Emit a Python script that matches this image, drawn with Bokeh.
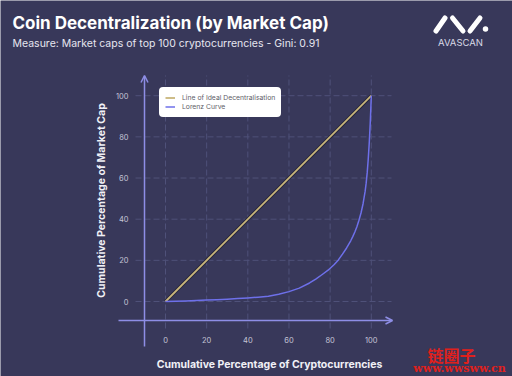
import math
from bokeh.plotting import figure
from bokeh.models import Label, Arrow, OpenHead, Legend, LegendItem
from bokeh.core.properties import value
from bokeh.embed import file_html
from bokeh.resources import INLINE

# ---- data ----
title = "Coin Decentralization (by Market Cap)"
subtitle = "Measure: Market caps of top 100 cryptocurrencies - Gini: 0.91"
x_label = "Cumulative Percentage of Cryptocurrencies"
y_label = "Cumulative Percentage of Market Cap"
series_names = ["Line of Ideal Decentralisation", "Lorenz Curve"]
ideal_x = [0, 100]
ideal_y = [0, 100]
lorenz_x = [0, 5, 10, 15, 20, 25, 30, 35, 40, 45, 50, 55, 60, 65, 70, 73, 76, 79, 82,
            84, 86, 88, 90, 91, 92, 93, 94, 95, 96, 97, 97.5, 98, 98.5, 99, 99.5, 100]
lorenz_y = [0, 0.1, 0.3, 0.5, 0.7, 0.9, 1.1, 1.4, 1.7, 2.1, 2.6, 3.5, 4.8, 6.5, 9.0, 10.9,
            13.0, 15.2, 18.0, 20.2, 23.0, 26.0, 29.5, 31.5, 33.8, 36.3, 39.5, 43.0, 47.5,
            53.5, 57.5, 62.5, 69.0, 77.0, 87.0, 100]
x_ticks = [0, 20, 40, 60, 80, 100]
y_ticks = [0, 20, 40, 60, 80, 100]
x_tick_labels = [str(t) for t in x_ticks]
y_tick_labels = [str(t) for t in y_ticks]
brand = "AVASCAN"
wm_cn = "链圈子"
wm_url = "www.wwsww.cn"

# ---- styling ----
W, H = 512, 376
BG = "#38385a"
AX = "#8e8ee6"
GRID = "#4f5179"
TAN = "#c9b67b"
LOR = "#6e70ea"
TICK = "#c4c4d6"
FONT = "Inter"

# pixel mapping of the frame (frame covers whole canvas)
X0PX, Y0PX, S = 165.0, 301.0, 2.058

def dx(px):
    return (px - X0PX) / S

def dy(py):
    return (Y0PX - py) / S

p = figure(width=W, height=H, x_range=(dx(0), dx(W)), y_range=(dy(H), dy(0)),
           min_border=0, toolbar_location=None, output_backend="svg",
           background_fill_color=BG, border_fill_color=BG, outline_line_color=None)
p.grid.visible = False
p.axis.visible = False

# dashed grid
gx0, gx1 = dx(135), dx(391)
gy0, gy1 = dy(328), dy(75)
p.segment(x0=x_ticks, y0=[gy0] * len(x_ticks), x1=x_ticks, y1=[gy1] * len(x_ticks),
          line_color=GRID, line_width=1, line_dash="6 3")
p.segment(x0=[gx0] * len(y_ticks), y0=y_ticks, x1=[gx1] * len(y_ticks), y1=y_ticks,
          line_color=GRID, line_width=1, line_dash="6 3")

# tick labels
p.text(x=x_ticks, y=[dy(339)] * len(x_ticks), text=x_tick_labels,
       text_font=value(FONT), text_font_size="7.5px", text_color=TICK,
       text_align="center", text_baseline="middle")
p.text(x=[dx(128)] * len(y_ticks), y=y_ticks, text=y_tick_labels,
       text_font=value(FONT), text_font_size="7.5px", text_color=TICK,
       text_align="right", text_baseline="middle")

# axis arrows
ax_x = dx(144)
ax_y = dy(320)
p.add_layout(Arrow(end=OpenHead(size=7, line_color=AX, line_width=1.5),
                   x_start=ax_x, y_start=dy(346), x_end=ax_x, y_end=dy(75),
                   line_color=AX, line_width=1.5))
p.add_layout(Arrow(end=OpenHead(size=7, line_color=AX, line_width=1.5),
                   x_start=dx(118), y_start=ax_y, x_end=dx(392), y_end=ax_y,
                   line_color=AX, line_width=1.5))

# series
p.line(ideal_x, ideal_y, line_color="#23233a", line_width=3.6)
r_ideal = p.line(ideal_x, ideal_y, line_color=TAN, line_width=1.8)
r_lor = p.line(lorenz_x, lorenz_y, line_color=LOR, line_width=1.5, line_join="round")

legend = Legend(items=[LegendItem(label=series_names[0], renderers=[r_ideal]),
                       LegendItem(label=series_names[1], renderers=[r_lor])],
                location=(159, H - 117), background_fill_color="white",
                background_fill_alpha=1.0, border_line_color="white",
                border_line_width=1,
                label_text_font_size="6.8px", label_text_color="#5e5e68",
                label_text_font=FONT, glyph_width=10, glyph_height=9,
                label_height=9, label_standoff=7, padding=5, spacing=0, margin=0)
if "border_radius" in Legend.properties():
    legend.border_radius = 4
p.add_layout(legend)

# texts
p.add_layout(Label(x=12, y=H - 22, x_units="screen", y_units="screen", text=title,
                   text_font=FONT, text_font_style="bold", text_font_size="17px",
                   text_color="white", text_baseline="middle"))
p.add_layout(Label(x=12, y=H - 43, x_units="screen", y_units="screen", text=subtitle,
                   text_font=FONT, text_font_size="10.5px", text_color="#e6e6f0",
                   text_baseline="middle"))
p.add_layout(Label(x=269, y=H - 364, x_units="screen", y_units="screen", text=x_label,
                   text_font=FONT, text_font_style="bold", text_font_size="10.5px",
                   text_color="#f0f0f6", text_align="center", text_baseline="middle"))
p.add_layout(Label(x=101, y=H - 200, x_units="screen", y_units="screen", text=y_label,
                   angle=math.pi / 2, text_font=FONT, text_font_style="bold",
                   text_font_size="10.5px", text_color="#f0f0f6",
                   text_align="center", text_baseline="middle"))

# logo
strokes = [((435.5, 30.5), (444.5, 17.5)), ((452, 17.5), (462.5, 30.5)), ((469.5, 30.5), (479.5, 17.5))]
for (ax0, ay0), (ax1, ay1) in strokes:
    p.line([dx(ax0), dx(ax1)], [dy(ay0), dy(ay1)], line_color="white", line_width=5,
           line_cap="round")
p.scatter([dx(485)], [dy(28.5)], size=5.5, fill_color="white", line_color=None)
p.add_layout(Label(x=460, y=H - 42, x_units="screen", y_units="screen", text=brand,
                   text_font=FONT, text_font_size="9.5px", text_color="#d8d8e6",
                   text_align="center", text_baseline="middle"))

# watermark
p.add_layout(Label(x=451, y=H - 354, x_units="screen", y_units="screen", text=wm_cn,
                   text_font="Noto Sans CJK SC", text_font_style="bold", text_font_size="16px",
                   text_color="#e0201c", text_align="center", text_baseline="middle"))
p.add_layout(Label(x=459, y=H - 368, x_units="screen", y_units="screen", text=wm_url,
                   text_font="DejaVu Serif", text_font_style="bold", text_font_size="11px",
                   text_color="#e0201c", text_align="center", text_baseline="middle"))

open("out.html", "w").write(file_html(p, INLINE))
